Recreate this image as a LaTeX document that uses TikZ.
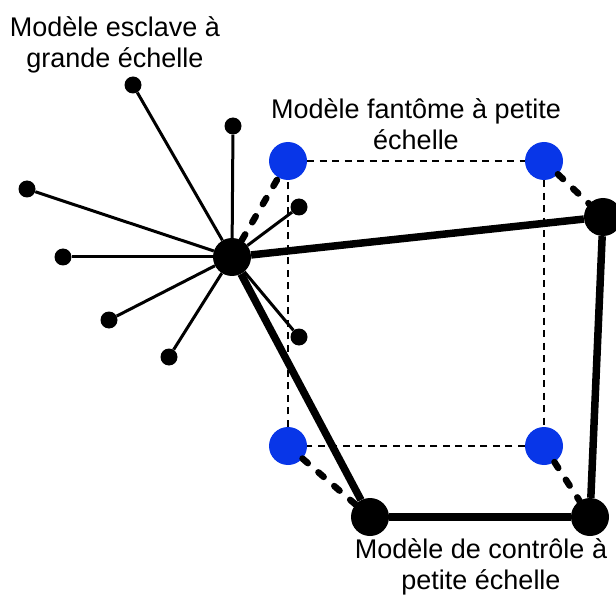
\documentclass[tikz,border=0pt]{standalone}
\usepackage{fontspec}
\setmainfont{Liberation Sans}
\definecolor{nodeblue}{RGB}{8,54,232}
\begin{document}
\begin{tikzpicture}[x=1pt,y=-1pt,
  hub/.style={circle,fill=black,inner sep=0pt,minimum size=38pt},
  big/.style={circle,fill=black,inner sep=0pt,minimum size=38pt},
  small/.style={circle,fill=black,inner sep=0pt,minimum size=17pt},
  ghost/.style={circle,fill=nodeblue,inner sep=0pt,minimum size=38pt},
  spoke/.style={line width=3pt},
  thickline/.style={line width=7.5pt},
  thickdash/.style={line width=6.5pt,line cap=round,dash pattern=on 7pt off 14pt},
  thindash/.style={line width=1.3pt,dash pattern=on 7pt off 5.5pt},
  lbl/.style={font=\fontsize{27}{31}\selectfont,align=center,inner sep=0pt,anchor=base}
]
\useasboundingbox (0,0) rectangle (616,596);
% nodes
\node[hub] (H) at (232,257) {};
\node[small] (d1) at (133,85) {};
\node[small] (d2) at (233,126) {};
\node[small] (d3) at (299,207) {};
\node[small] (d4) at (27,189) {};
\node[small] (d5) at (63,257) {};
\node[small] (d6) at (109,320) {};
\node[small] (d7) at (169,357) {};
\node[small] (d8) at (299,337) {};
\node[ghost] (g1) at (288,161) {};
\node[ghost] (g2) at (544,161) {};
\node[ghost] (g3) at (288,446) {};
\node[ghost] (g4) at (544,446) {};
\node[big] (R) at (603,217) {};
\node[big] (B1) at (370,517) {};
\node[big] (B2) at (590,517) {};
% connectors
\draw[thindash] (g1) -- (g2);
\draw[thindash] (g2) -- (g4);
\draw[thindash] (g4) -- (g3);
\draw[thindash] (g3) -- (g1);
\foreach \d in {d1,d2,d3,d4,d5,d6,d7,d8} \draw[spoke] (H) -- (\d);
\draw[thickline] (H) -- (R);
\draw[thickline] (H) -- (B1);
\draw[thickline] (B1) -- (B2);
\draw[thickline] (B2) -- (R);
\draw[thickdash] (H) -- (g1);
\draw[thickdash] (g2) -- (R);
\draw[thickdash] (g3) -- (B1);
\draw[thickdash] (g4) -- (B2);
% labels
\node[lbl] (t1) at (115,68) {Modèle esclave à\\grande échelle};
\node[lbl] (t2) at (416,150) {Modèle fantôme à petite\\échelle};
\node[lbl] (t3) at (481,589) {Modèle de contrôle à\\petite échelle};
\end{tikzpicture}
\end{document}
